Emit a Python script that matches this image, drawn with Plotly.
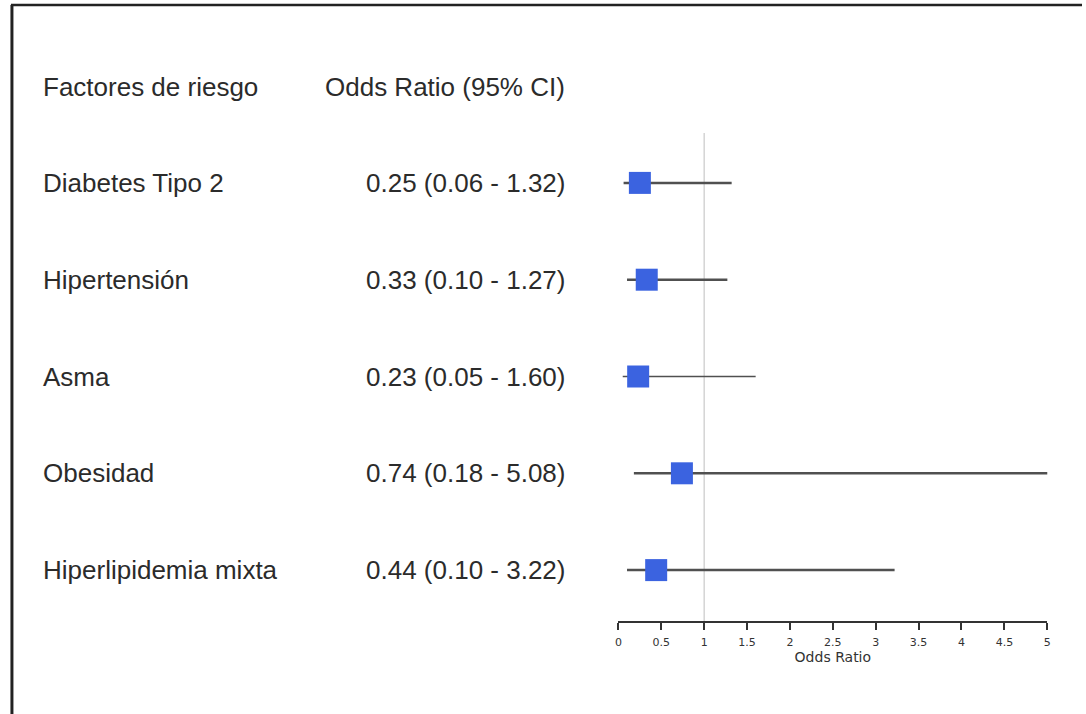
import plotly.graph_objects as go

factors = ["Diabetes Tipo 2", "Hipertensión", "Asma", "Obesidad", "Hiperlipidemia mixta"]
odds = [0.25, 0.33, 0.23, 0.74, 0.44]
lower = [0.06, 0.10, 0.05, 0.18, 0.10]
upper = [1.32, 1.27, 1.60, 5.08, 3.22]
line_widths = [2.5, 2.5, 1.3, 2.5, 2.5]
tick_vals = [0, 0.5, 1, 1.5, 2, 2.5, 3, 3.5, 4, 4.5, 5]
tick_text = ["0", "0.5", "1", "1.5", "2", "2.5", "3", "3.5", "4", "4.5", "5"]
header_left = "Factores de riesgo"
header_right = "Odds Ratio (95% CI)"

W, H = 1086, 714
n = len(factors)
ypos = [n - i for i in range(n)]  # 5 .. 1

FONT = "Arial, Liberation Sans, sans-serif"
SMALL = "DejaVu Sans, Arial, sans-serif"
TXT = "#2b2b2b"
FS = 26

fig = go.Figure()

# CI lines
for i in range(n):
    fig.add_trace(go.Scatter(
        x=[lower[i], upper[i]], y=[ypos[i], ypos[i]],
        mode="lines", line=dict(color="#505050", width=line_widths[i]),
        hoverinfo="skip", showlegend=False, cliponaxis=False,
    ))

# markers
fig.add_trace(go.Scatter(
    x=odds, y=ypos, mode="markers",
    marker=dict(symbol="square", size=22, color="#3B63E0",
                line=dict(width=0)),
    showlegend=False, cliponaxis=False,
))

# domain in pixels
x0_px, x1_px = 619, 1051
ybot_px, ytop_px = 621, 133
row_px = 97
y_lo = 1 - (ybot_px - 570) / row_px
y_hi = n + (183 - ytop_px) / row_px

# reference line at OR = 1
fig.add_shape(type="line", xref="x", yref="y", x0=1, x1=1, y0=y_lo, y1=y_hi,
              line=dict(color="#d4d4d4", width=1.5), layer="below")

# text columns
for i in range(n):
    fig.add_annotation(xref="paper", yref="y", x=37 / W, y=ypos[i],
                       text=factors[i], showarrow=False, xanchor="left",
                       yanchor="middle", font=dict(family=FONT, size=FS, color=TXT))
    fig.add_annotation(xref="paper", yref="y", x=567 / W, y=ypos[i],
                       text=f"{odds[i]:.2f} ({lower[i]:.2f} - {upper[i]:.2f})",
                       showarrow=False, xanchor="right", yanchor="middle",
                       font=dict(family=FONT, size=FS, color=TXT))

fig.add_annotation(xref="paper", yref="paper", x=37 / W, y=1 - 87 / H,
                   text=header_left, showarrow=False, xanchor="left",
                   yanchor="middle", font=dict(family=FONT, size=FS, color=TXT))
fig.add_annotation(xref="paper", yref="paper", x=567 / W, y=1 - 87 / H,
                   text=header_right, showarrow=False, xanchor="right",
                   yanchor="middle", font=dict(family=FONT, size=FS, color=TXT))

# frame lines (top and left)
fig.add_shape(type="line", xref="paper", yref="paper", x0=7 / W, x1=1, y0=1 - 5 / H, y1=1 - 5 / H,
              line=dict(color="#222222", width=2.5))
fig.add_shape(type="line", xref="paper", yref="paper", x0=8 / W, x1=8 / W, y0=0, y1=1 - 5 / H,
              line=dict(color="#222222", width=3))

fig.update_layout(
    width=W, height=H,
    margin=dict(l=0, r=0, t=0, b=0),
    paper_bgcolor="white", plot_bgcolor="white",
    xaxis=dict(
        domain=[x0_px / W, x1_px / W], range=[0, 5],
        tickvals=tick_vals, ticktext=tick_text,
        showgrid=False, zeroline=False,
        showline=True, linecolor="#333333", linewidth=1.5,
        ticks="outside", ticklen=7, tickwidth=1.5, tickcolor="#333333",
        ticklabelstandoff=3,
        tickfont=dict(family=SMALL, size=11, color="#333333"),
        title=dict(text="Odds Ratio", font=dict(family=SMALL, size=14, color="#333333"),
                   standoff=4),
        anchor="y",
    ),
    yaxis=dict(
        domain=[1 - ybot_px / H, 1 - ytop_px / H], range=[y_lo, y_hi],
        showgrid=False, zeroline=False, showline=False,
        showticklabels=False, ticks="",
    ),
)

fig.write_html("out.html", config={"displayModeBar": False},
               post_script="document.body.style.margin='0';document.body.style.overflow='hidden';")
